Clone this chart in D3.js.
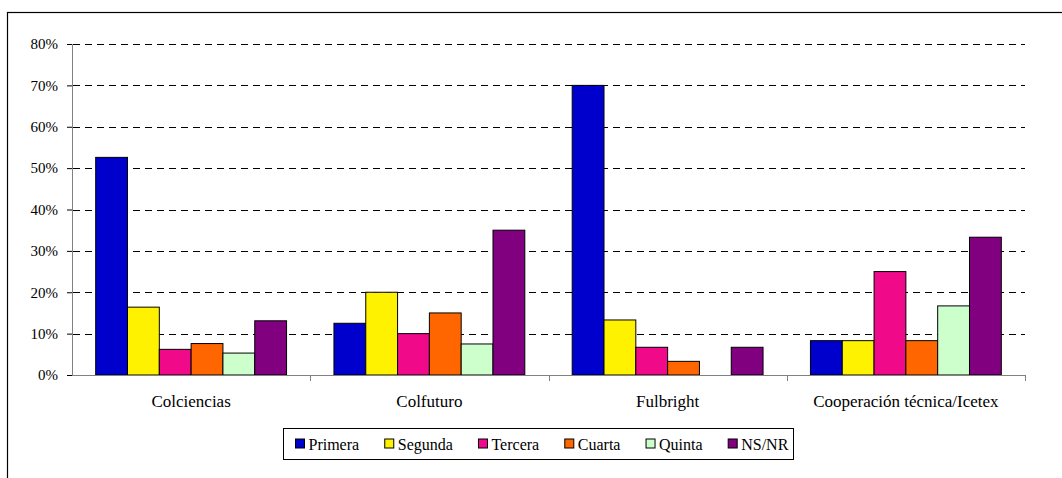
<!DOCTYPE html>
<html>
<head>
<meta charset="utf-8">
<script src="https://cdn.jsdelivr.net/npm/d3@7"></script>
<style>
  html, body { margin: 0; padding: 0; background: #fff; }
</style>
</head>
<body>
<svg id="chart" width="1062" height="478"></svg>
<script>
const categories = ["Colciencias", "Colfuturo", "Fulbright", "Cooperación técnica/Icetex"];
const seriesNames = ["Primera", "Segunda", "Tercera", "Cuarta", "Quinta", "NS/NR"];
const primera = [52.6, 12.5, 70.0, 8.3];
const segunda = [16.4, 20.0, 13.3, 8.3];
const tercera = [6.2, 10.0, 6.7, 25.0];
const cuarta  = [7.6, 15.0, 3.3, 8.3];
const quinta  = [5.3, 7.5, 0.0, 16.7];
const nsnr    = [13.1, 35.0, 6.7, 33.3];
const yTicks = [0, 10, 20, 30, 40, 50, 60, 70, 80];
const colors = ["#0000CC", "#FFF200", "#F00A8A", "#FF6600", "#CCFFCC", "#800080"];

const seriesValues = [primera, segunda, tercera, cuarta, quinta, nsnr];
const FONT = "Liberation Serif, DejaVu Serif, serif";

const svg = d3.select("#chart");
const plot = { left: 72, right: 1025, top: 44, bottom: 375 };

// outer chart border
svg.append("rect").attr("x", 7.5).attr("y", 12.5).attr("width", 1100).attr("height", 500)
  .attr("fill", "none").attr("stroke", "#000").attr("stroke-width", 1.2);

const y = d3.scaleLinear().domain([0, 80]).range([plot.bottom, plot.top]);
const x0 = d3.scaleBand().domain(categories).range([plot.left, plot.right]).padding(0);
const x1 = d3.scaleBand().domain(seriesNames).range([0, x0.bandwidth()]).paddingInner(0).paddingOuter(0.745);

// gridlines (dashed)
svg.append("g").selectAll("line").data(yTicks.filter(d => d > 0)).join("line")
  .attr("x1", plot.left + 1).attr("x2", plot.right)
  .attr("y1", d => Math.round(y(d)) + 0.5).attr("y2", d => Math.round(y(d)) + 0.5)
  .attr("stroke", "#000").attr("stroke-width", 1).attr("stroke-dasharray", "7,5");

// bars
const rows = categories.map((c, i) => ({ cat: c, vals: seriesNames.map((s, j) => ({ s, j, v: seriesValues[j][i] })) }));
const groups = svg.append("g").selectAll("g").data(rows).join("g")
  .attr("transform", d => `translate(${x0(d.cat)},0)`);
groups.selectAll("rect").data(d => d.vals.filter(e => e.v > 0)).join("rect")
  .attr("x", d => x1(d.s))
  .attr("y", d => y(d.v))
  .attr("width", x1.bandwidth())
  .attr("height", d => y(0) - y(d.v))
  .attr("fill", d => colors[d.j])
  .attr("stroke", "#000").attr("stroke-width", 1);

// y axis
const yAxis = d3.axisLeft(y).tickValues(yTicks).tickFormat(d => d + "%").tickSize(5).tickPadding(9);
const gy = svg.append("g").attr("transform", `translate(${plot.left},0)`).call(yAxis)
  .attr("font-family", FONT).attr("font-size", 15);
gy.select(".domain").attr("stroke", "#808080");
gy.selectAll(".tick line").attr("stroke", "#000");
gy.selectAll(".tick text").attr("font-family", FONT).attr("font-size", 15).attr("fill", "#000");

// x axis
const xAxisG = svg.append("g").attr("transform", `translate(0,${plot.bottom})`);
xAxisG.append("line").attr("x1", plot.left).attr("x2", plot.right).attr("y1", 0.5).attr("y2", 0.5)
  .attr("stroke", "#808080").attr("stroke-width", 1);
const boundaries = categories.map(c => x0(c) + x0.bandwidth());
xAxisG.selectAll("line.tk").data(boundaries).join("line").attr("class", "tk")
  .attr("x1", d => Math.round(d) + 0.5).attr("x2", d => Math.round(d) + 0.5)
  .attr("y1", 0).attr("y2", 6).attr("stroke", "#808080");
xAxisG.selectAll("text").data(categories).join("text")
  .attr("x", d => x0(d) + x0.bandwidth() / 2).attr("y", 32)
  .attr("text-anchor", "middle").attr("font-family", FONT).attr("font-size", 17).attr("fill", "#000").text(d => d);

// legend
const legend = svg.append("g");
const legBox = { x: 283.5, y: 428.5, w: 510, h: 31 };
legend.append("rect").attr("x", legBox.x).attr("y", legBox.y).attr("width", legBox.w).attr("height", legBox.h)
  .attr("fill", "#fff").attr("stroke", "#000").attr("stroke-width", 1);
let lx = legBox.x + 12;
seriesNames.forEach((s, j) => {
  const g = legend.append("g").attr("transform", `translate(${lx},${legBox.y + legBox.h / 2})`);
  g.append("rect").attr("x", 0).attr("y", -5).attr("width", 9).attr("height", 9)
    .attr("fill", colors[j]).attr("stroke", "#000").attr("stroke-width", 1);
  const t = g.append("text").attr("x", 13).attr("y", 5.5).attr("font-family", FONT).attr("font-size", 16).attr("fill", "#000").text(s);
  lx += 13 + t.node().getComputedTextLength() + 25.6;
});
</script>
</body>
</html>
